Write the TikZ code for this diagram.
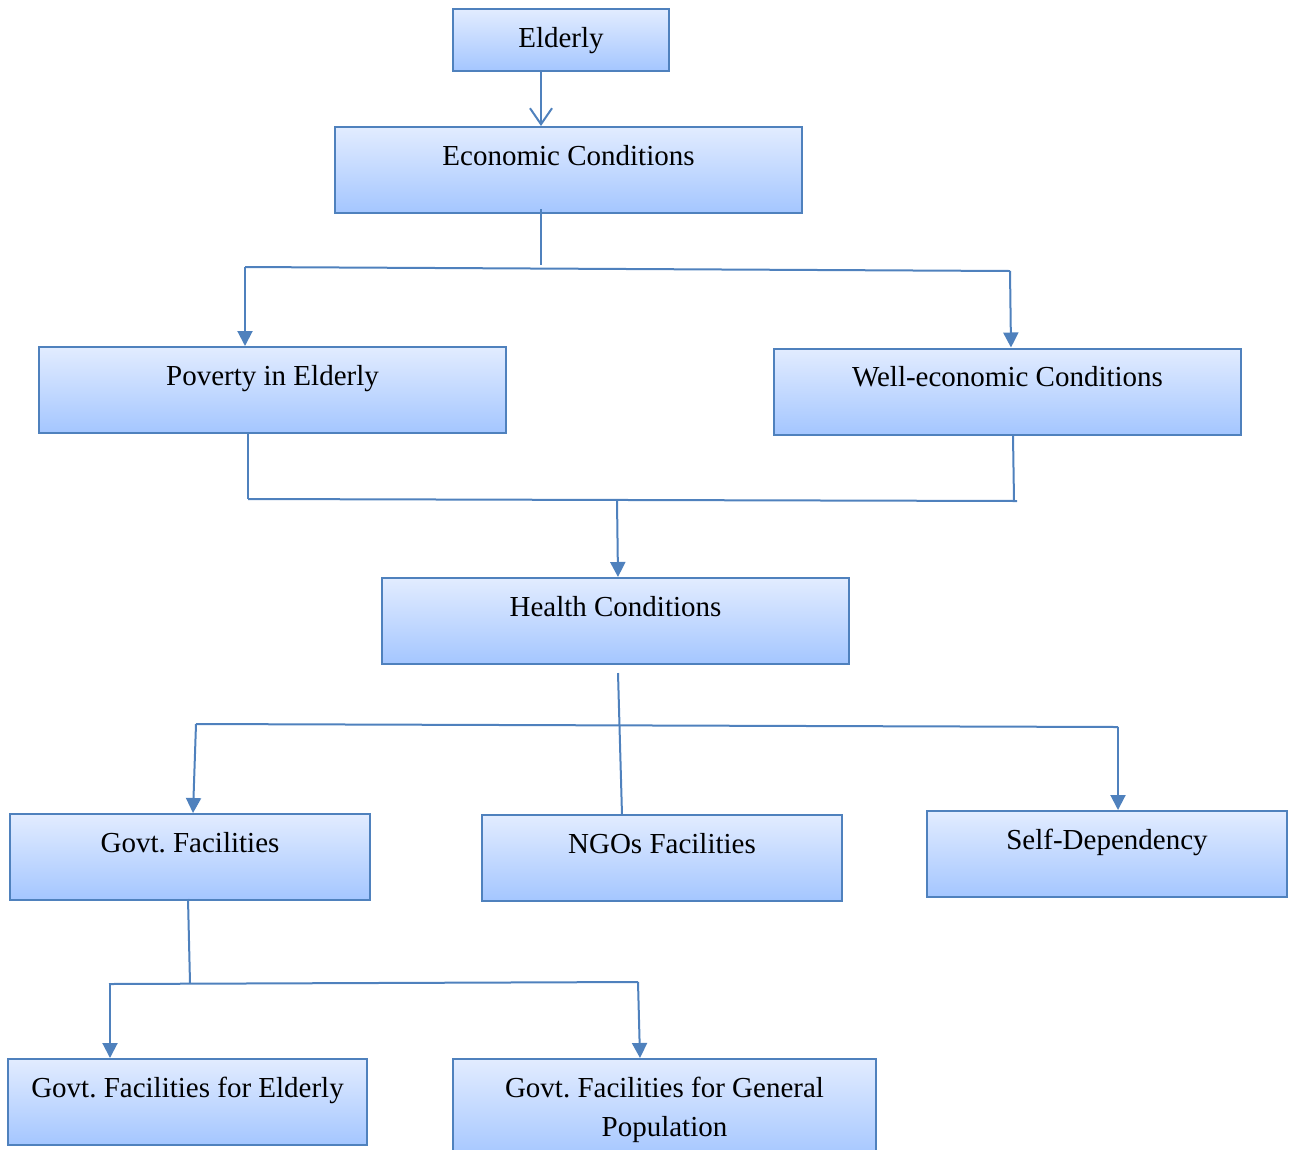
\documentclass[tikz,border=0pt]{standalone}
\usepackage{fontspec}
\setmainfont{Liberation Serif}
\usetikzlibrary{arrows.meta}
\definecolor{edgeblue}{RGB}{79,129,189}
\definecolor{topfill}{RGB}{226,236,255}
\definecolor{botfill}{RGB}{164,198,255}
\tikzset{
  boxnode/.style={draw=edgeblue, line width=2pt, top color=topfill, bottom color=botfill,
    rectangle, inner xsep=0pt, inner ysep=0pt, align=center,
    font=\fontsize{29}{39}\selectfont\frenchspacing, text height=38pt, text depth=48pt},
  conn/.style={draw=edgeblue, line width=2pt},
  arr/.style={conn, -{Triangle[width=15pt,length=15pt]}},
  openarr/.style={conn, -{Straight Barb[width=22pt,length=16pt,line width=2pt]}}
}
\begin{document}
\frenchspacing
\begin{tikzpicture}[x=1pt,y=-1pt]
\useasboundingbox (0,0) rectangle (1297,1149);
% boxes
\node[boxnode, minimum width=216pt, minimum height=62pt, text depth=24pt] (eld) at (561,40) {Elderly};
\node[boxnode, minimum width=467pt, minimum height=86pt] (eco) at (568.5,170) {Economic Conditions};
\node[boxnode, minimum width=467pt, minimum height=86pt] (pov) at (272.5,390) {Poverty in Elderly};
\node[boxnode, minimum width=467pt, minimum height=86pt] (wel) at (1007.5,391.5) {Well-economic Conditions};
\node[boxnode, minimum width=467pt, minimum height=86pt] (hea) at (615.5,621) {Health Conditions};
\node[boxnode, minimum width=360pt, minimum height=86pt] (gov) at (190,857) {Govt. Facilities};
\node[boxnode, minimum width=360pt, minimum height=86pt] (ngo) at (662,858) {NGOs Facilities};
\node[boxnode, minimum width=360pt, minimum height=86pt] (sel) at (1107,854) {Self-Dependency};
\node[boxnode, minimum width=359pt, minimum height=86pt] (gfe) at (187.5,1102) {Govt. Facilities for Elderly};
\node[boxnode, minimum width=423pt, minimum height=100pt, text height=77pt, text depth=23pt] (gfg) at (664.5,1109) {Govt. Facilities for General\\Population};
% level 1
\coordinate (ex) at (541,0);
\draw[openarr] (eld.south -| ex) -- (eco.north -| ex);
% level 2
\coordinate (e1) at (541,209);
\coordinate (e2) at (541,265);
\coordinate (h1L) at (245,267);
\coordinate (h1R) at (1010,271);
\draw[conn] (e1) -- (e2);
\draw[conn] (h1L) -- (h1R);
\draw[arr] (h1L) -- (h1L |- pov.north);
\draw[arr] (h1R) -- ([xshift=1pt]h1R |- wel.north);
% level 3
\coordinate (p1) at (248,432);
\coordinate (h2L) at (248,499);
\coordinate (w1) at (1013,436);
\coordinate (h2R) at (1017,501);
\coordinate (h2M) at (617,501);
\draw[conn] (p1) -- (h2L);
\draw[conn] (w1) -- (1014,501);
\draw[conn] (h2L) -- (h2R);
\draw[arr] (h2M) -- ([xshift=1pt]h2M |- hea.north);
% level 4
\coordinate (hs) at (618,673);
\coordinate (nt) at (622,815);
\coordinate (h3L) at (196,724);
\coordinate (h3R) at (1118,727);
\draw[conn] (h3L) -- (h3R);
\draw[conn] (hs) -- (nt);
\draw[arr] (h3L) -- ([xshift=-3pt]h3L |- gov.north);
\draw[arr] (h3R) -- (h3R |- sel.north);
% level 5
\coordinate (g1) at (188,899);
\coordinate (g2) at (190,983);
\coordinate (h4L) at (109,984);
\coordinate (h4R) at (638,982);
\draw[conn] (g1) -- (g2);
\draw[conn] (h4L) -- (h4R);
\draw[arr] ([xshift=1pt]h4L) -- ([xshift=1pt]h4L |- gfe.north);
\draw[arr] (h4R) -- ([xshift=2pt]h4R |- gfg.north);
\end{tikzpicture}
\end{document}
